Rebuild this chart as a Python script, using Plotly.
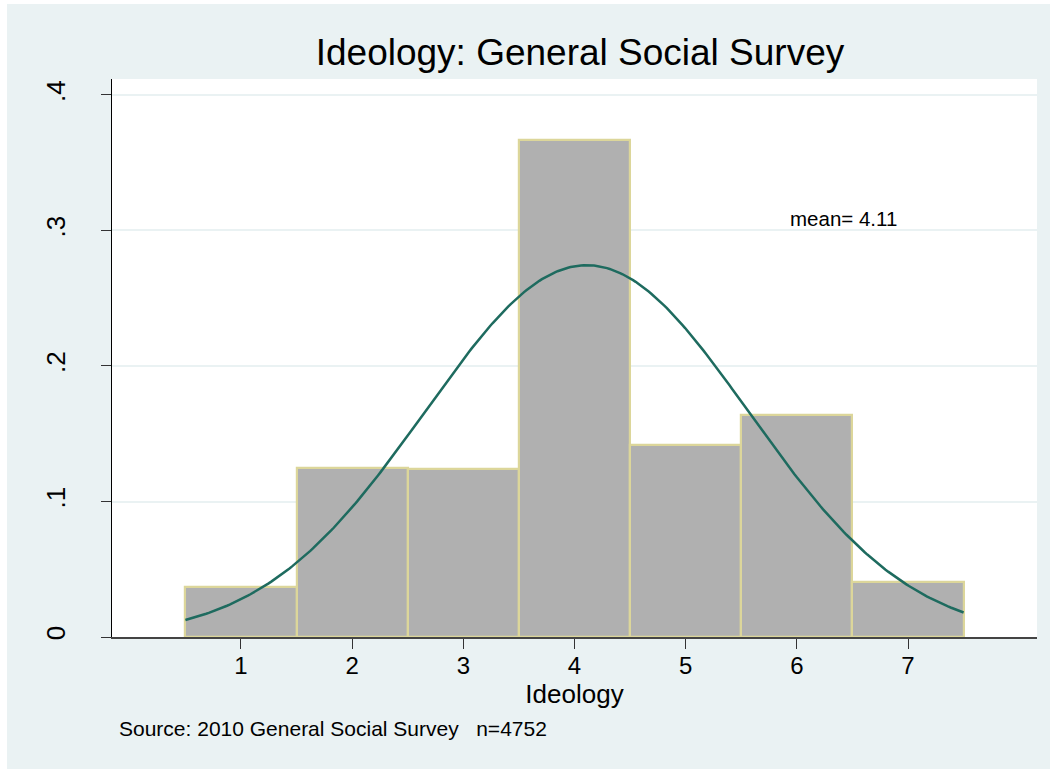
import numpy as np
import plotly.graph_objects as go

# Data
categories = [1, 2, 3, 4, 5, 6, 7]
density = [0.0367, 0.1247, 0.1240, 0.3668, 0.1420, 0.1635, 0.0406]
mean_value = 4.11
sd_value = 1.454
y_ticks = [0, 0.1, 0.2, 0.3, 0.4]
y_tick_labels = ["0", ".1", ".2", ".3", ".4"]
x_ticks = [1, 2, 3, 4, 5, 6, 7]
title_text = "Ideology: General Social Survey"
x_title = "Ideology"
source_text = "Source: 2010 General Social Survey   n=4752"
mean_text = "mean= 4.11"

# Normal density overlay defined by the mean and sd above
curve_x = np.linspace(categories[0] - 0.5, categories[-1] + 0.5, 300)
curve_y = np.exp(-((curve_x - mean_value) ** 2) / (2 * sd_value ** 2)) / (sd_value * np.sqrt(2 * np.pi))

BG = "#EAF2F3"
FONT = "Liberation Sans, Arial, sans-serif"

W, H = 1043, 765
L, R, T, B = 105, 13, 75, 132
PW = W - L - R
PH = H - T - B

fig = go.Figure()
fig.add_trace(go.Bar(
    x=categories, y=density, width=1.0,
    marker=dict(color="#B0B0B0", line=dict(color="#DCD69A", width=2.2)),
    hoverinfo="x+y", showlegend=False,
))
fig.add_trace(go.Scatter(
    x=curve_x, y=curve_y, mode="lines",
    line=dict(color="#1E6B5F", width=2.5), showlegend=False,
))

fig.update_layout(
    width=W, height=H,
    margin=dict(l=L, r=R, t=T, b=B),
    paper_bgcolor=BG, plot_bgcolor="white",
    font=dict(family=FONT, color="black"),
    bargap=0,
    title=dict(text=title_text, x=573 / W, xanchor="center",
               y=1 - 48 / H, yanchor="middle", font=dict(size=37, color="black")),
    xaxis=dict(
        range=[-0.16, 8.16], tickmode="array", tickvals=x_ticks,
        ticks="outside", ticklen=10, tickwidth=1, tickcolor="#333333",
        tickfont=dict(size=24), showgrid=False, zeroline=False,
        showline=True, linecolor="#444444", linewidth=2,
        ticklabelstandoff=-4,
        title=dict(text=x_title, font=dict(size=26), standoff=3),
    ),
    yaxis=dict(
        range=[0, 0.4118], tickmode="array", tickvals=y_ticks, ticktext=y_tick_labels,
        tickangle=-90, ticks="outside", ticklen=10, tickwidth=1, tickcolor="#333333",
        tickfont=dict(size=26), showgrid=True, gridcolor=BG, gridwidth=2,
        zeroline=False, showline=True, linecolor="black", linewidth=1,
        ticklabelstandoff=26,
    ),
    annotations=[
        dict(text=mean_text, x=5.916, y=0.309, xref="x", yref="y",
             xanchor="left", yanchor="middle", showarrow=False,
             font=dict(size=20.5, color="black")),
        dict(text=source_text, x=(110 - L) / PW, y=(H - B - 724) / PH,
             xref="paper", yref="paper",
             xanchor="left", yanchor="middle", showarrow=False,
             font=dict(size=21, color="black")),
    ],
)

fig.write_html(
    "out.html",
    post_script="document.body.style.margin='4px 0 0 7px';document.body.style.overflow='hidden';",
)
